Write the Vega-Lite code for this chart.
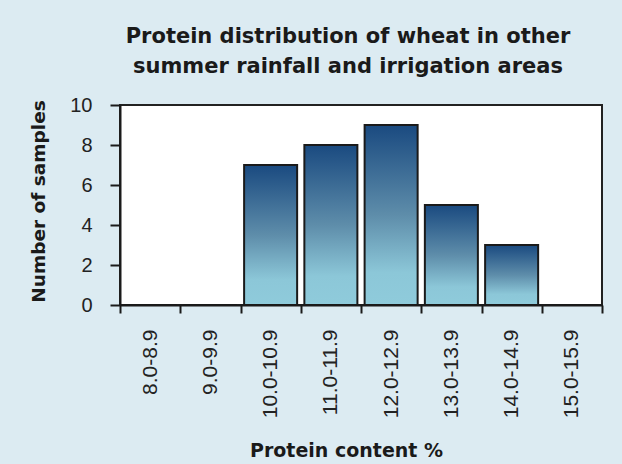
{
  "$schema": "https://vega.github.io/schema/vega-lite/v6.json",
  "width": 482,
  "height": 200,
  "autosize": {"type": "none"},
  "padding": {"left": 120, "top": 105, "right": 20, "bottom": 159},
  "background": "#DCEBF2",
  "title": {
    "text": ["Protein distribution of wheat in other", "summer rainfall and irrigation areas"],
    "font": "DejaVu Sans",
    "fontSize": 21,
    "fontWeight": "bold",
    "lineHeight": 30,
    "color": "#1a1a1a",
    "anchor": "middle",
    "dx": -13,
    "offset": 18
  },
  "data": {
    "values": [
      {"range": "8.0-8.9", "count": 0},
      {"range": "9.0-9.9", "count": 0},
      {"range": "10.0-10.9", "count": 7},
      {"range": "11.0-11.9", "count": 8},
      {"range": "12.0-12.9", "count": 9},
      {"range": "13.0-13.9", "count": 5},
      {"range": "14.0-14.9", "count": 3},
      {"range": "15.0-15.9", "count": 0}
    ]
  },
  "mark": {
    "type": "bar",
    "width": {"band": 0.88},
    "stroke": "#1a1a1a",
    "strokeWidth": 2,
    "fill": {
      "gradient": "linear",
      "x1": 0, "y1": 0, "x2": 0, "y2": 1,
      "stops": [
        {"offset": 0, "color": "#1A4A80"},
        {"offset": 0.5, "color": "#5E8DAA"},
        {"offset": 0.82, "color": "#8CC7D8"},
        {"offset": 1, "color": "#8FCBDB"}
      ]
    }
  },
  "encoding": {
    "x": {
      "field": "range",
      "type": "nominal",
      "sort": null,
      "scale": {"paddingInner": 0, "paddingOuter": 0},
      "axis": {
        "title": "Protein content %",
        "titleFont": "DejaVu Sans",
        "titleFontSize": 19,
        "titleFontWeight": "bold",
        "titleColor": "#1a1a1a",
        "titleX": 226,
        "titleY": 151,
        "titleAlign": "center",
        "titleBaseline": "alphabetic",
        "labelAngle": -90,
        "labelFont": "Liberation Sans",
        "labelFontSize": 21,
        "labelColor": "#222222",
        "labelPadding": 16,
        "tickBand": "extent",
        "tickSize": 8,
        "tickWidth": 2,
        "tickColor": "#1a1a1a",
        "domainColor": "#1a1a1a",
        "domainWidth": 2
      }
    },
    "y": {
      "field": "count",
      "type": "quantitative",
      "scale": {"domain": [0, 10]},
      "axis": {
        "title": "Number of samples",
        "titleFont": "DejaVu Sans",
        "titleFontSize": 18.5,
        "titleFontWeight": "bold",
        "titleColor": "#1a1a1a",
        "titleX": -76,
        "titleY": 96,
        "titleAlign": "center",
        "titleBaseline": "alphabetic",
        "titleAngle": -90,
        "values": [0, 2, 4, 6, 8, 10],
        "grid": false,
        "labelFont": "Liberation Sans",
        "labelFontSize": 20,
        "labelColor": "#222222",
        "labelPadding": 18,
        "tickSize": 10,
        "tickWidth": 2,
        "tickColor": "#1a1a1a",
        "domainColor": "#1a1a1a",
        "domainWidth": 2
      }
    }
  },
  "config": {
    "view": {"fill": "white", "stroke": "#222222", "strokeWidth": 2}
  }
}
